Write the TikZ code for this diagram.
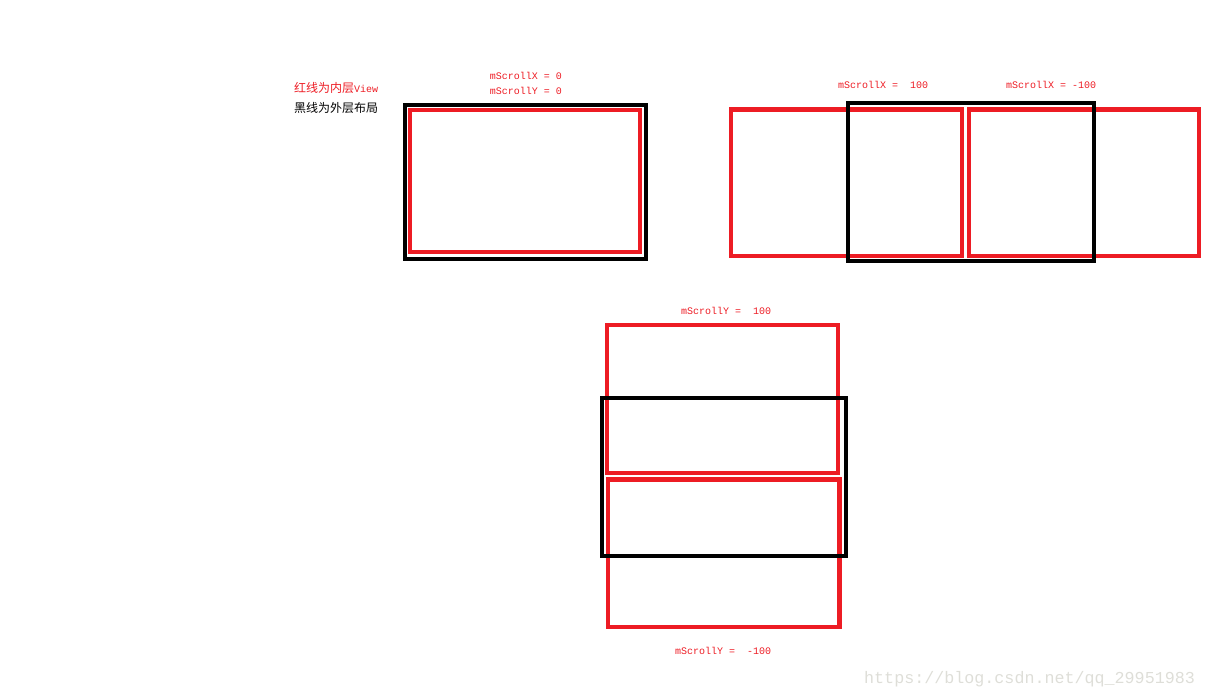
\documentclass[tikz,border=0pt]{standalone}
\usepackage{fontspec}
\setmonofont{Liberation Mono}
\newfontfamily\cjk{Noto Sans CJK SC}
\usetikzlibrary{positioning}
\definecolor{paintred}{RGB}{237,28,36}
\definecolor{markgray}{RGB}{222,222,216}

\begin{document}
\begin{tikzpicture}[
    x=1pt, y=-1pt,
    inner/.style={draw=paintred, line width=4.5pt},
    outer/.style={draw=black, line width=4pt},
    scrolllabel/.style={text=paintred, font=\fontsize{10}{11}\selectfont\ttfamily, inner sep=0pt},
    legend/.style={font=\fontsize{12}{13}\selectfont\cjk, inner sep=0pt, anchor=west},
]
\useasboundingbox (0,0) rectangle (1205,699);

% legend
\node[legend, text=paintred] (redlegend) at (294,88) {红线为内层\ttfamily\fontsize{10}{11}\selectfont View};
\node[legend, text=black] (blacklegend) at (294,108) {黑线为外层布局};

% no scroll
\draw[outer] (405,105) rectangle (646,259);
\draw[inner] (410,110) rectangle (640,252);
\node[scrolllabel] (zerox) at (526,76) {mScrollX = 0};
\node[scrolllabel, below=7.5pt of zerox] (zeroy) {mScrollY = 0};

% horizontal scroll
\draw[inner] (731,109.5) rectangle (962,256);
\draw[inner] (969,109.5) rectangle (1199,256);
\draw[outer] (848,103) rectangle (1094,261);
\node[scrolllabel, anchor=west] (posx) at (838,85) {mScrollX =\ \ 100};
\node[scrolllabel, anchor=west] (negx) at (1006,85) {mScrollX = -100};

% vertical scroll
\draw[inner] (607,325) rectangle (838,473);
\draw[inner] (608,479.5) rectangle (839.5,627);
\draw[outer] (602,398) rectangle (846,556);
\node[scrolllabel, anchor=west] (posy) at (681,311) {mScrollY =\ \ 100};
\node[scrolllabel, anchor=west] (negy) at (675,651) {mScrollY =\ \ -100};

\node[text=markgray, font=\fontsize{16.7}{18}\selectfont\ttfamily, anchor=west, inner sep=0pt] (mark) at (864,679) {https://blog.csdn.net/qq\_29951983};
\end{tikzpicture}
\end{document}
